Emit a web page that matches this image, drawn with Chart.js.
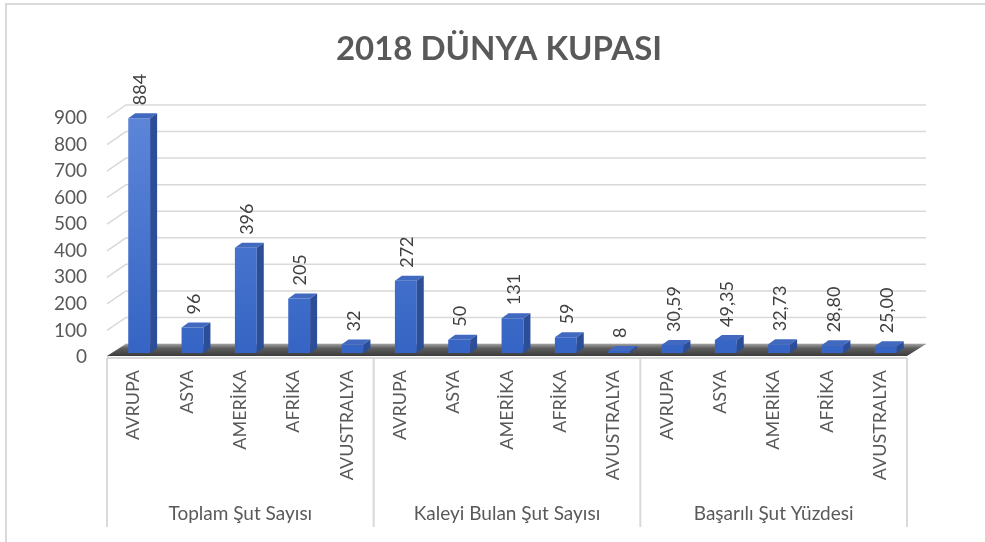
<!DOCTYPE html>
<html>
<head>
<meta charset="utf-8">
<script src="https://cdn.jsdelivr.net/npm/chart.js@4"></script>
<style>
  html, body { margin: 0; padding: 0; background: #fff; }
</style>
</head>
<body>
<canvas id="graph" width="985" height="542"></canvas>
<script>
let chartTitle = "2018 DÜNYA KUPASI";
let regions = ["AVRUPA", "ASYA", "AMERİKA", "AFRİKA", "AVUSTRALYA"];
let groups = ["Toplam Şut Sayısı", "Kaleyi Bulan Şut Sayısı", "Başarılı Şut Yüzdesi"];
let toplamSut = [884, 96, 396, 205, 32];
let kaleyiBulan = [272, 50, 131, 59, 8];
let basariYuzde = [30.59, 49.35, 32.73, 28.80, 25.00];
let groupDecimals = [0, 0, 2];
let yMin = 0, yMax = 900, yStep = 100;

let labels = groups.flatMap(() => regions);
let values = [...toplamSut, ...kaleyiBulan, ...basariYuzde];

// excel 3d look: bars sit a bit right of their labels, wall is pushed back
const SHIFT = 5.5;
const WALL_DX = 19, WALL_DY = 13, FRONT = 4;
const BAR_DX = 7, BAR_DY = 5;

let excel3d = {
    id: 'excel3d',
    beforeDraw(chart) {
        let ctx = chart.ctx, x = chart.scales.x, y = chart.scales.y;
        ctx.save();
        // outer frame
        ctx.strokeStyle = '#d9d9d9';
        ctx.lineWidth = 2;
        ctx.beginPath();
        ctx.moveTo(6, 542); ctx.lineTo(6, 4); ctx.lineTo(985, 4);
        ctx.stroke();

        // title
        ctx.fillStyle = '#595959';
        ctx.font = 'bold 33px Lato';
        ctx.textAlign = 'center';
        ctx.textBaseline = 'middle';
        ctx.fillText(chartTitle, 499, 49);

        let left = x.left - SHIFT, right = x.right - SHIFT;
        // back wall gridlines
        ctx.lineWidth = 1.5;
        for (let v = yMin; v <= yMax; v += yStep) {
            let py = y.getPixelForValue(v);
            ctx.beginPath();
            ctx.moveTo(left, py + FRONT);
            ctx.lineTo(left + WALL_DX, py + FRONT - WALL_DY);
            ctx.lineTo(right + WALL_DX, py + FRONT - WALL_DY);
            ctx.stroke();
        }

        // floor
        let p0 = y.getPixelForValue(0);
        let fy = p0 + 3, by = p0 + FRONT - WALL_DY;
        let g = ctx.createLinearGradient(0, by, 0, fy);
        g.addColorStop(0, '#a0a0a0');
        g.addColorStop(0.35, '#5e5e5e');
        g.addColorStop(1, '#3c3c3c');
        ctx.fillStyle = g;
        ctx.beginPath();
        ctx.moveTo(left, fy);
        ctx.lineTo(right, fy);
        ctx.lineTo(right + WALL_DX, by);
        ctx.lineTo(left + WALL_DX, by);
        ctx.closePath();
        ctx.fill();

        // category axis box
        let ay = p0 + 5;
        ctx.strokeStyle = '#d9d9d9';
        ctx.lineWidth = 2;
        ctx.beginPath();
        ctx.moveTo(left, ay); ctx.lineTo(right, ay);
        let cw = (x.right - x.left) / labels.length;
        for (let k = 0; k <= groups.length; k++) {
            let sx = left + k * regions.length * cw;
            ctx.moveTo(sx, ay); ctx.lineTo(sx, 527);
        }
        ctx.stroke();

        // group names
        ctx.fillStyle = '#595959';
        ctx.font = '19px Lato';
        groups.forEach((name, k) => {
            let cx = left + (k + 0.5) * regions.length * cw;
            ctx.fillText(name, cx, 514);
        });
        ctx.restore();
    },
    afterDatasetsDraw(chart) {
        let ctx = chart.ctx;
        let meta = chart.getDatasetMeta(0);
        ctx.save();
        meta.data.forEach((bar, i) => {
            let x1 = bar.x - bar.width / 2, x2 = bar.x + bar.width / 2;
            let top = bar.y, base = bar.base;
            // top face
            ctx.fillStyle = '#4169bf';
            ctx.beginPath();
            ctx.moveTo(x1, top); ctx.lineTo(x2, top);
            ctx.lineTo(x2 + BAR_DX, top - BAR_DY); ctx.lineTo(x1 + BAR_DX, top - BAR_DY);
            ctx.closePath();
            ctx.fill();
            // side face
            ctx.fillStyle = '#2c4d98';
            ctx.beginPath();
            ctx.moveTo(x2, top); ctx.lineTo(x2 + BAR_DX, top - BAR_DY);
            ctx.lineTo(x2 + BAR_DX, base - BAR_DY); ctx.lineTo(x2, base);
            ctx.closePath();
            ctx.fill();

            // value label, rotated
            let dec = groupDecimals[Math.floor(i / regions.length)];
            let txt = values[i].toFixed(dec).replace('.', ',');
            ctx.save();
            ctx.translate(bar.x + 1.5, top - 13);
            ctx.rotate(-Math.PI / 2);
            ctx.fillStyle = '#404040';
            ctx.font = '18px Lato';
            ctx.textAlign = 'left';
            ctx.textBaseline = 'middle';
            ctx.fillText(txt, 0, 0);
            ctx.restore();
        });
        ctx.restore();
    }
};

let graph = document.getElementById('graph').getContext('2d');

let stat = new Chart(graph, {
    type: 'bar',
    data: {
        labels: labels,
        datasets: [{
            data: values,
            backgroundColor: function(context) {
                let area = context.chart.chartArea;
                if (!area) return '#4472c4';
                let g = context.chart.ctx.createLinearGradient(0, area.top, 0, area.bottom);
                g.addColorStop(0, '#5d86d8');
                g.addColorStop(1, '#3564c4');
                return g;
            },
            borderWidth: 0,
            categoryPercentage: 1,
            barPercentage: 0.41,
        }]
    },
    options: {
        responsive: false,
        animation: false,
        devicePixelRatio: 1,
        layout: { padding: { top: 114, right: 72.5, left: 0, bottom: 0 } },
        plugins: {
            legend: { display: false },
            tooltip: { enabled: false },
        },
        scales: {
            x: {
                grid: { display: false, drawTicks: false },
                border: { display: false },
                ticks: {
                    autoSkip: false,
                    minRotation: 90,
                    maxRotation: 90,
                    padding: 17,
                    labelOffset: -SHIFT,
                    color: '#595959',
                    font: { family: 'Lato', size: 18 },
                },
                afterFit: function(scale) { scale.height = 189; },
            },
            y: {
                min: yMin,
                max: yMax,
                grid: { display: false, drawTicks: false },
                border: { display: false },
                ticks: {
                    stepSize: yStep,
                    padding: 25.5,
                    labelOffset: FRONT,
                    color: '#595959',
                    font: { family: 'Lato', size: 19 },
                },
                afterFit: function(scale) { scale.width = 112.5; },
            }
        }
    },
    plugins: [excel3d]
});
</script>
</body>
</html>
